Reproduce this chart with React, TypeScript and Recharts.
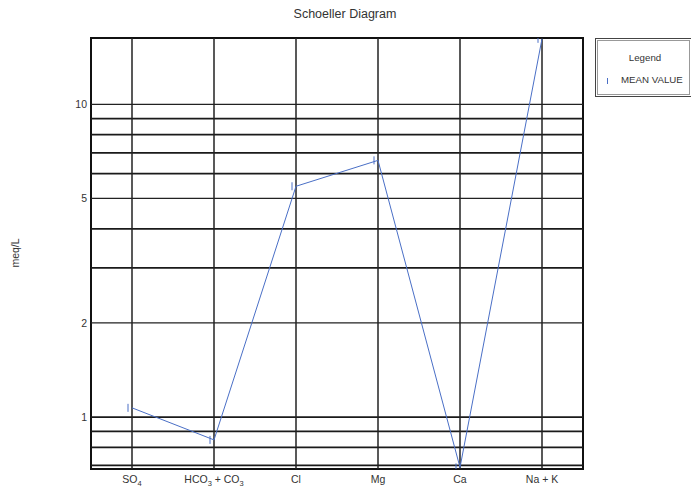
import React from "react"
import { LineChart, Line, XAxis, YAxis, ReferenceLine, ReferenceArea } from "recharts"

const categories = ["SO4", "HCO3 + CO3", "Cl", "Mg", "Ca", "Na + K"]
const meanValues = [1.07, 0.845, 5.47, 6.62, 0.69, 16.2]
const yTicks = [1, 2, 5, 10]
const thinGrid = [2, 5, 10]
const thickGrid = [0.7, 0.8, 0.9, 1, 3, 4, 6, 7, 8, 9]
const yDomain = [0.682, 16.3]

const data = categories.map((name, i) => ({ name, mean: meanValues[i] }))

const BLUE = "#4a6fc6"
const INK = "#333"
const FONT = '"Liberation Sans", Arial, sans-serif'

// marker is a short vertical bar drawn just left of the point
const MeanDot = (props: any) => {
  const { cx, cy } = props
  if (cx == null || cy == null) return null
  return <line x1={cx - 4} x2={cx - 4} y1={cy - 4} y2={cy + 4} stroke={BLUE} strokeWidth={1} />
}

// digits in chemical names are written as subscripts
const ChemTick = (props: any) => {
  const { x, y, payload } = props
  const parts = String(payload.value).split(/(\d)/).filter((p) => p !== "")
  let down = false
  return (
    <text x={x} y={y + 14} textAnchor="middle" fontSize={10.5} fill={INK} fontFamily={FONT}>
      {parts.map((p, i) => {
        const isSub = /^\d$/.test(p)
        const dy = isSub ? (down ? 0 : 3) : down ? -3 : 0
        down = isSub
        return (
          <tspan key={i} dy={dy} fontSize={isSub ? 7.5 : 10.5}>
            {p}
          </tspan>
        )
      })}
    </text>
  )
}

const ValueTick = (props: any) => {
  const { x, y, payload } = props
  return (
    <text x={x} y={y} dy={4} textAnchor="end" fontSize={10.5} fill={INK} fontFamily={FONT}>
      {payload.value}
    </text>
  )
}

const LegendBox = () => (
  <div
    style={{
      position: "absolute",
      left: 595,
      top: 38,
      width: 97,
      height: 59,
      boxSizing: "border-box",
      border: "1px solid #444",
      padding: 1,
    }}
  >
    <div
      style={{
        width: "100%",
        height: "100%",
        boxSizing: "border-box",
        border: "1px solid #999",
        position: "relative",
        fontSize: 9.7,
        color: INK,
      }}
    >
      <div style={{ position: "absolute", left: 0, right: 0, top: 11, textAlign: "center", paddingLeft: 3 }}>Legend</div>
      <div style={{ position: "absolute", left: 9, top: 37, width: 1, height: 6, background: BLUE }} />
      <div style={{ position: "absolute", left: 23, top: 33, whiteSpace: "nowrap" }}>MEAN VALUE</div>
    </div>
  </div>
)

export default function App() {
  return (
    <div
      style={{
        position: "absolute",
        left: 0,
        top: 0,
        width: 691,
        height: 488,
        background: "#fff",
        fontFamily: FONT,
      }}
    >
      <div
        style={{
          position: "absolute",
          left: 290,
          width: 110,
          top: 7,
          textAlign: "center",
          fontSize: 12.5,
          color: INK,
          whiteSpace: "nowrap",
        }}
      >
        Schoeller Diagram
      </div>
      <div
        style={{
          position: "absolute",
          left: 15,
          top: 253,
          transform: "translate(-50%, -50%) rotate(-90deg)",
          fontSize: 10.5,
          color: INK,
          whiteSpace: "nowrap",
        }}
      >
        meq/L
      </div>
      <LineChart width={691} height={488} data={data} margin={{ top: 38, right: 108, bottom: 0, left: 0 }}>
        <XAxis
          dataKey="name"
          type="category"
          scale="band"
          interval={0}
          axisLine={false}
          tickLine={false}
          tickSize={0}
          tickMargin={0}
          height={19}
          tick={<ChemTick />}
        />
        <YAxis
          type="number"
          scale="log"
          domain={yDomain}
          ticks={yTicks}
          allowDataOverflow
          axisLine={false}
          tickLine={false}
          tickSize={0}
          tickMargin={4}
          width={91}
          tick={<ValueTick />}
        />
        {thickGrid.map((v) => (
          <ReferenceLine key={"t" + v} y={v} stroke="#1a1a1a" strokeWidth={1.8} />
        ))}
        {thinGrid.map((v) => (
          <ReferenceLine key={"n" + v} y={v} stroke="#222" strokeWidth={1.3} />
        ))}
        {categories.map((c) => (
          <ReferenceLine key={c} x={c} stroke="#222" strokeWidth={1.5} />
        ))}
        <ReferenceArea y1={yDomain[0]} y2={yDomain[1]} fill="none" stroke="#111" strokeWidth={2} ifOverflow="visible" />
        <Line
          dataKey="mean"
          stroke={BLUE}
          strokeWidth={1}
          dot={<MeanDot />}
          activeDot={false}
          isAnimationActive={false}
        />
      </LineChart>
      <LegendBox />
    </div>
  )
}
